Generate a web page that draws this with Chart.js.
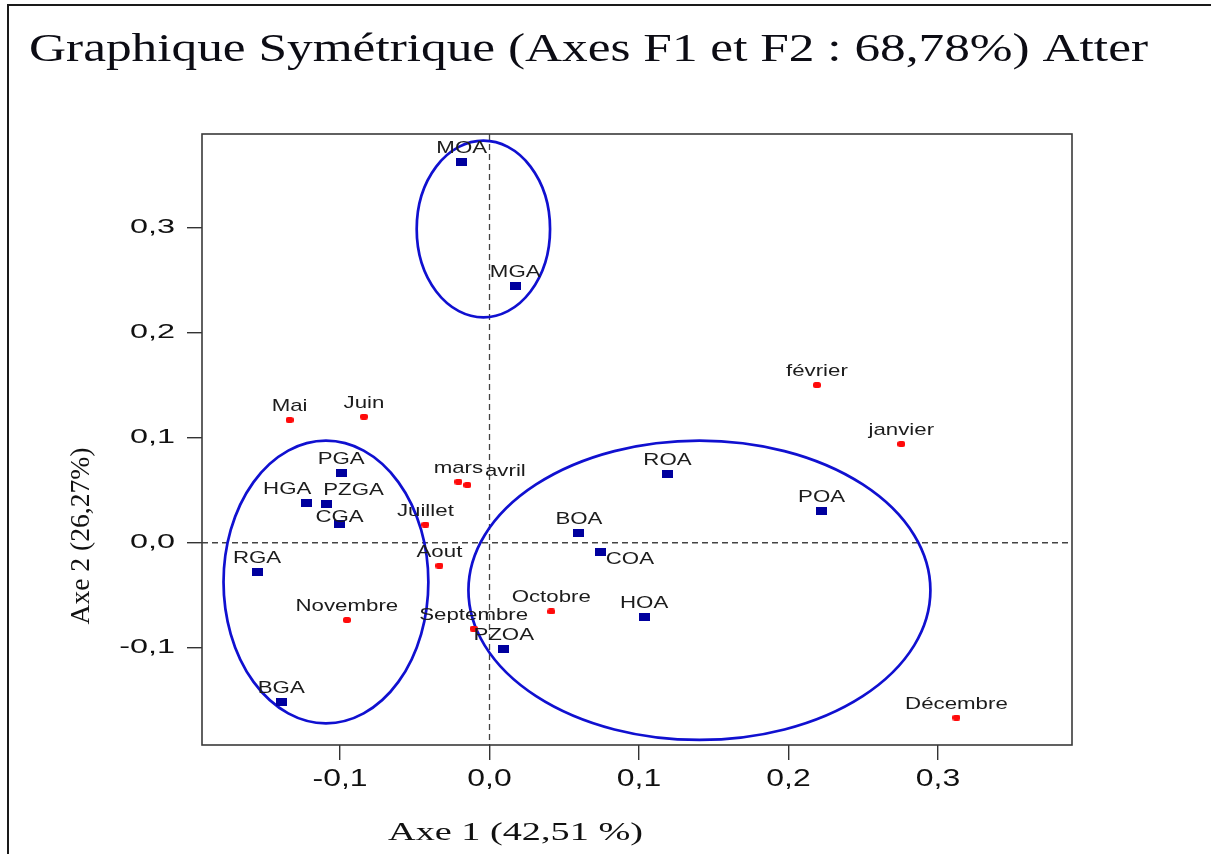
<!DOCTYPE html>
<html>
<head>
<meta charset="utf-8">
<script src="https://cdn.jsdelivr.net/npm/chart.js@4.4.1/dist/chart.umd.min.js"></script>
<style>
  html, body { margin: 0; padding: 0; background: #fff; }
  #wrap { position: relative; width: 1211px; height: 854px; }
</style>
</head>
<body>
<div id="wrap"><canvas id="c"></canvas></div>
<script>
// Stations (blue squares): coordinates on axes F1 / F2
const siteNames = ['MOA', 'MGA', 'PGA', 'HGA', 'PZGA', 'CGA', 'RGA', 'BGA', 'PZOA', 'BOA', 'COA', 'HOA', 'ROA', 'POA'];
const siteF1 = [-0.0186, 0.0172, -0.0992, -0.1226, -0.1090, -0.1003, -0.1555, -0.1393, 0.0095, 0.0598, 0.0745, 0.1034, 0.1190, 0.2221];
const siteF2 = [0.3630, 0.2451, 0.0663, 0.0382, 0.0370, 0.0182, -0.0278, -0.1515, -0.1012, 0.0096, -0.0088, -0.0707, 0.0656, 0.0306];

// Months (red dots): coordinates on axes F1 / F2
const monthNames = ['janvier', 'février', 'mars', 'avril', 'Mai', 'Juin', 'Juillet', 'Aout', 'Septembre', 'Octobre', 'Novembre', 'Décembre'];
const monthF1 = [0.2754, 0.2190, -0.0208, -0.0148, -0.1337, -0.0840, -0.0429, -0.0335, -0.0106, 0.0413, -0.0954, 0.3123];
const monthF2 = [0.0942, 0.1504, 0.0582, 0.0551, 0.1171, 0.1202, 0.0173, -0.0218, -0.0819, -0.0655, -0.0736, -0.1667];

// Axis ticks
const tickValues = [-0.1, 0.0, 0.1, 0.2, 0.3];
const xTickLabels = ['-0,1', '0,0', '0,1', '0,2', '0,3'];
const yTickLabels = ['-0,1', '0,0', '0,1', '0,2', '0,3'];

// Group ellipses (centre and half-axes, in axis units)
const groupCx = [-0.0041, -0.1094, 0.1404];
const groupCy = [0.2991, -0.0374, -0.0453];
const groupRx = [0.0446, 0.0685, 0.1545];
const groupRy = [0.0842, 0.1347, 0.1427];

// Texts
const chartTitle = 'Graphique Symétrique (Axes F1 et F2 : 68,78%) Atter';
const xTitle = 'Axe 1 (42,51 %)';
const yTitle = 'Axe 2 (26,27%)';

// ---- styling ----
const SANS = '"Liberation Sans", Arial, sans-serif';
const SERIF = '"Liberation Serif", "Times New Roman", serif';
// extra pixel shift for crowded labels
const labelNudge = { avril: [38, 0], COA: [29, 21], HGA: [-19, 0], PZGA: [27, 0], CGA: [0, 7] };

function markerCanvas(w, h, color, round) {
  const c = document.createElement('canvas');
  c.width = w; c.height = h;
  const g = c.getContext('2d');
  g.fillStyle = color;
  if (round) {
    g.beginPath();
    g.roundRect(0, 0, w, h, 2.5);
    g.fill();
  } else {
    g.fillRect(0, 0, w, h);
  }
  return c;
}
const blueMark = markerCanvas(11, 8, '#00009e', false);
const redMark = markerCanvas(8, 6, '#ff0a0a', true);

function stretchedText(ctx, text, x, y, font, scaleX, align) {
  ctx.save();
  ctx.font = font;
  ctx.translate(x, y);
  ctx.scale(scaleX, 1);
  ctx.textAlign = align || 'center';
  ctx.textBaseline = 'alphabetic';
  ctx.fillText(text, 0, 0);
  ctx.restore();
}
function fittedText(ctx, text, cx, y, font, width) {
  ctx.save();
  ctx.font = font;
  const w = ctx.measureText(text).width;
  ctx.translate(cx, y);
  ctx.scale(width / w, 1);
  ctx.textAlign = 'center';
  ctx.textBaseline = 'alphabetic';
  ctx.fillText(text, 0, 0);
  ctx.restore();
}

const decorPlugin = {
  id: 'decor',
  beforeDraw(chart) {
    const ctx = chart.ctx;
    ctx.save();
    ctx.fillStyle = '#fff';
    ctx.fillRect(0, 0, chart.width, chart.height);
    // page frame (top and left)
    ctx.strokeStyle = '#1a1a1a';
    ctx.lineWidth = 2;
    ctx.beginPath();
    ctx.moveTo(8, chart.height);
    ctx.lineTo(8, 5);
    ctx.lineTo(chart.width, 5);
    ctx.stroke();
    ctx.restore();
  },
  beforeDatasetsDraw(chart) {
    const ctx = chart.ctx;
    const xs = chart.scales.x, ys = chart.scales.y;
    const a = chart.chartArea;
    ctx.save();
    // dashed origin lines
    ctx.strokeStyle = '#444';
    ctx.lineWidth = 1.3;
    ctx.setLineDash([6, 4]);
    const x0 = xs.getPixelForValue(0), y0 = ys.getPixelForValue(0);
    ctx.beginPath();
    ctx.moveTo(x0, a.top); ctx.lineTo(x0, a.bottom);
    ctx.moveTo(a.left, y0); ctx.lineTo(a.right, y0);
    ctx.stroke();
    ctx.setLineDash([]);
    // group ellipses
    ctx.strokeStyle = '#1010d0';
    ctx.lineWidth = 2.7;
    for (let i = 0; i < groupCx.length; i++) {
      const cx = xs.getPixelForValue(groupCx[i]);
      const cy = ys.getPixelForValue(groupCy[i]);
      const rx = Math.abs(xs.getPixelForValue(groupCx[i] + groupRx[i]) - cx);
      const ry = Math.abs(ys.getPixelForValue(groupCy[i] + groupRy[i]) - cy);
      ctx.beginPath();
      ctx.ellipse(cx, cy, rx, ry, 0, 0, Math.PI * 2);
      ctx.stroke();
    }
    ctx.restore();
  },
  afterDatasetsDraw(chart) {
    const ctx = chart.ctx;
    ctx.save();
    ctx.fillStyle = '#1c1c1c';
    chart.data.datasets.forEach((ds, di) => {
      const meta = chart.getDatasetMeta(di);
      meta.data.forEach((pt, i) => {
        const name = ds.names[i];
        const nudge = labelNudge[name] || [0, 0];
        stretchedText(ctx, name, pt.x + nudge[0], pt.y - 9 + nudge[1], '17px ' + SANS, 1.31, 'center');
      });
    });
    ctx.restore();
  },
  afterDraw(chart) {
    const ctx = chart.ctx;
    const xs = chart.scales.x, ys = chart.scales.y;
    const a = chart.chartArea;
    ctx.save();
    // plot frame
    ctx.strokeStyle = '#3a3a3a';
    ctx.lineWidth = 1.6;
    ctx.strokeRect(a.left, a.top, a.right - a.left, a.bottom - a.top);
    // tick labels
    ctx.fillStyle = '#111';
    tickValues.forEach((v, i) => {
      stretchedText(ctx, xTickLabels[i], xs.getPixelForValue(v), 786, '24px ' + SANS, 1.33, 'center');
      stretchedText(ctx, yTickLabels[i], 175, ys.getPixelForValue(v) + 5, '20px ' + SANS, 1.62, 'right');
    });
    // titles
    ctx.fillStyle = '#0c0c14';
    fittedText(ctx, chartTitle, 588.5, 61, '39px ' + SERIF, 1119);
    ctx.fillStyle = '#111';
    fittedText(ctx, xTitle, 515.5, 840, '26px ' + SERIF, 255);
    ctx.save();
    ctx.translate(89, 536);
    ctx.rotate(-Math.PI / 2);
    fittedText(ctx, yTitle, 0, 0, '27px ' + SERIF, 177);
    ctx.restore();
    ctx.restore();
  }
};

const axisCommon = {
  type: 'linear',
  grid: {
    display: true,
    drawOnChartArea: false,
    drawTicks: true,
    tickLength: 15,
    color: '#333',
    lineWidth: 1.4
  },
  border: { display: false },
  ticks: { display: false },
  afterBuildTicks(scale) {
    scale.ticks = tickValues.map(v => ({ value: v }));
  }
};

new Chart(document.getElementById('c'), {
  type: 'scatter',
  data: {
    datasets: [
      {
        label: 'Stations',
        names: siteNames,
        data: siteF1.map((x, i) => ({ x: x, y: siteF2[i] })),
        pointStyle: blueMark,
        pointRadius: 6
      },
      {
        label: 'Mois',
        names: monthNames,
        data: monthF1.map((x, i) => ({ x: x, y: monthF2[i] })),
        pointStyle: redMark,
        pointRadius: 4
      }
    ]
  },
  options: {
    responsive: true,
    maintainAspectRatio: false,
    animation: false,
    events: [],
    layout: { padding: { left: 0, top: 134, right: 139, bottom: 0 } },
    plugins: {
      legend: { display: false },
      title: { display: false },
      tooltip: { enabled: false }
    },
    scales: {
      x: Object.assign({}, axisCommon, {
        min: -0.1923, max: 0.3896,
        afterFit(scale) { scale.height = 109; }
      }),
      y: Object.assign({}, axisCommon, {
        min: -0.1928, max: 0.3897,
        afterFit(scale) { scale.width = 202; }
      })
    }
  },
  plugins: [decorPlugin]
});
</script>
</body>
</html>
